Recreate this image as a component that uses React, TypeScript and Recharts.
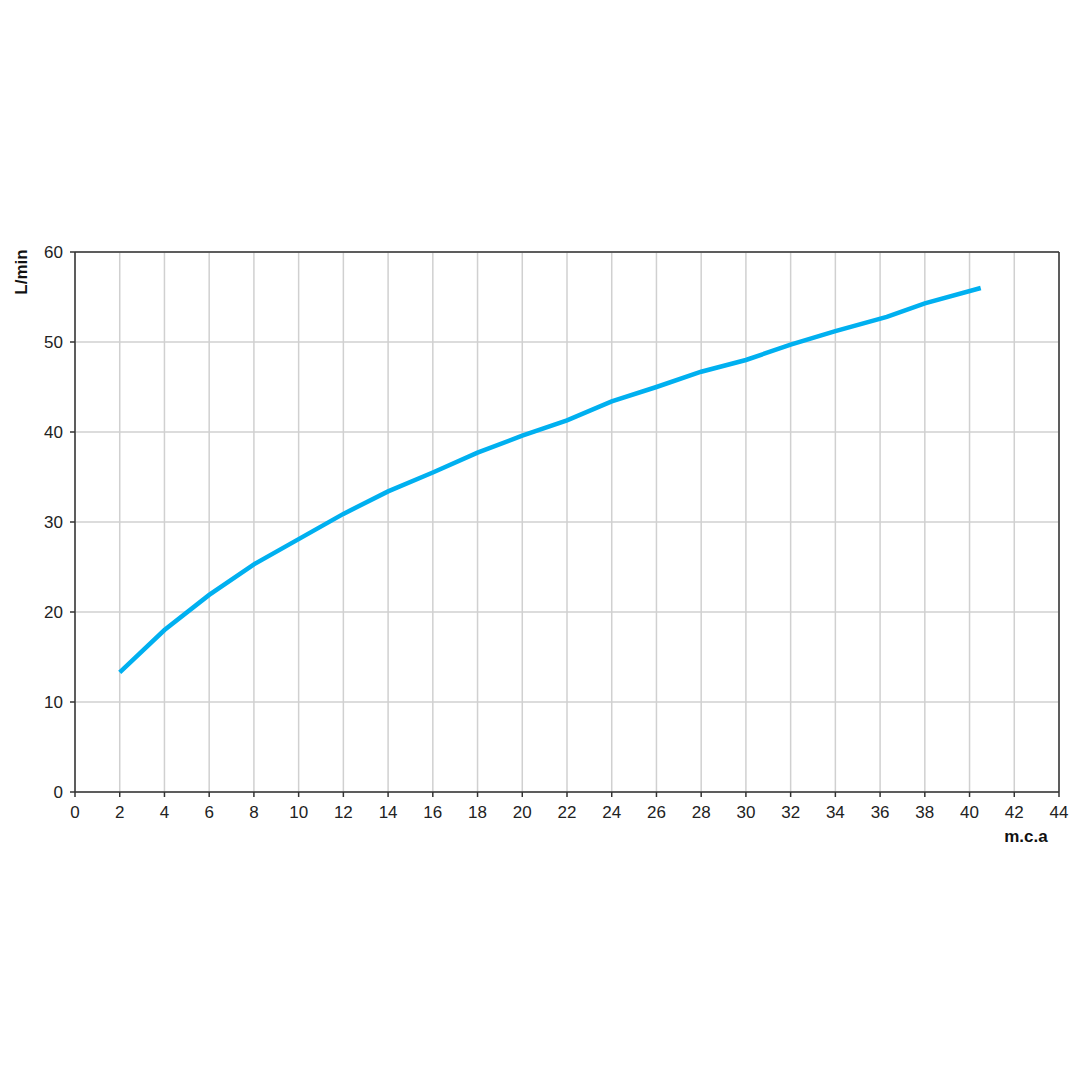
import React from 'react'
import { LineChart, Line, XAxis, YAxis, CartesianGrid, ReferenceLine } from 'recharts'

// pressure (m.c.a) vs flow (L/min)
const pressure = [2, 4, 6, 8, 10, 12, 14, 16, 18, 20, 22, 24, 26, 28, 30, 32, 34, 36.3, 38, 40.5]
const flow = [13.3, 18, 21.9, 25.3, 28.1, 30.9, 33.4, 35.5, 37.7, 39.6, 41.3, 43.4, 45, 46.7, 48, 49.7, 51.2, 52.8, 54.3, 56]

const xTicks = [0, 2, 4, 6, 8, 10, 12, 14, 16, 18, 20, 22, 24, 26, 28, 30, 32, 34, 36, 38, 40, 42, 44]
const yTicks = [0, 10, 20, 30, 40, 50, 60]

const data = pressure.map((p, i) => ({ p, q: flow[i] }))

const FONT = '"Liberation Sans", Arial, sans-serif'
const tickStyle = { fontSize: 17, fill: '#222', fontFamily: FONT }

export default function App() {
  return (
    <div style={{ position: 'fixed', left: 0, top: 0, width: 1080, height: 1080, background: '#fff' }}>
      <LineChart
        width={1080}
        height={1080}
        data={data}
        margin={{ top: 252, right: 21, left: 20, bottom: 248 }}
      >
        <CartesianGrid stroke="#d0d0d0" strokeWidth={1.5} />
        <XAxis
          dataKey="p"
          type="number"
          domain={[0, 44]}
          ticks={xTicks}
          interval={0}
          height={40}
          tick={tickStyle}
          tickSize={5}
          tickMargin={9}
          stroke="#333"
          strokeWidth={1.5}
        />
        <YAxis
          type="number"
          domain={[0, 60]}
          ticks={yTicks}
          interval={0}
          width={55}
          tick={tickStyle}
          tickSize={5}
          tickMargin={7}
          stroke="#333"
          strokeWidth={1.5}
        />
        <ReferenceLine y={60} stroke="#333" strokeWidth={1.5} />
        <ReferenceLine x={44} stroke="#333" strokeWidth={1.5} />
        <Line
          type="linear"
          dataKey="q"
          stroke="#00b0f0"
          strokeWidth={4.5}
          dot={false}
          isAnimationActive={false}
        />
      </LineChart>
      <div
        style={{
          position: 'absolute',
          left: 22,
          top: 272,
          transform: 'translate(-50%, -50%) rotate(-90deg)',
          fontFamily: FONT,
          fontWeight: 'bold',
          fontSize: 17,
          color: '#111',
          whiteSpace: 'nowrap',
        }}
      >
        L/min
      </div>
      <div
        style={{
          position: 'absolute',
          left: 1026,
          top: 837,
          transform: 'translate(-50%, -50%)',
          fontFamily: FONT,
          fontWeight: 'bold',
          fontSize: 17,
          color: '#111',
          whiteSpace: 'nowrap',
        }}
      >
        m.c.a
      </div>
    </div>
  )
}
